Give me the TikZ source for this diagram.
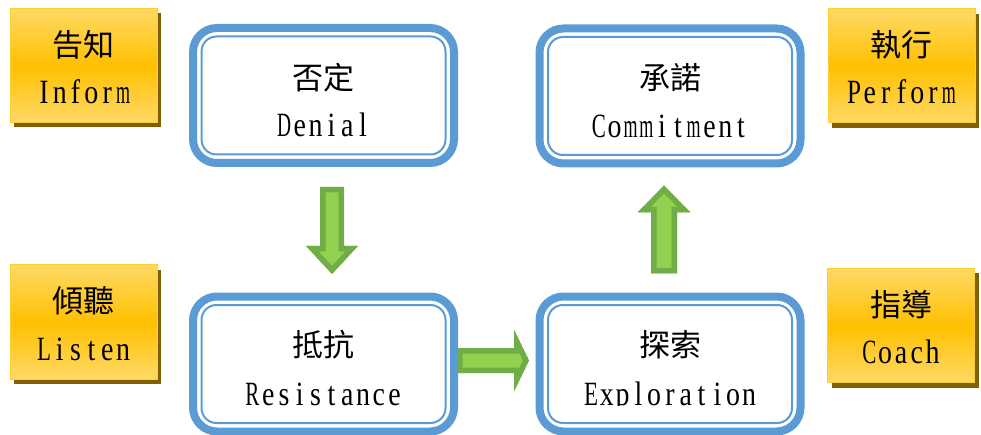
\documentclass[tikz,border=0pt]{standalone}
\usepackage{fontspec}
\usepackage{graphicx}
\newfontfamily\cjk{Noto Sans CJK TC}
\newfontfamily\engfont[FakeStretch=0.82]{Liberation Serif}
\usetikzlibrary{shadows,calc}
\definecolor{boxblue}{HTML}{5B9BD5}
\definecolor{arrowdark}{HTML}{70AD47}
\definecolor{arrowlight}{HTML}{92D050}
\definecolor{tagtop}{HTML}{FFD966}
\definecolor{tagmid}{HTML}{FFC000}
\definecolor{tagborder}{HTML}{FFCC33}
\definecolor{tagshadow}{HTML}{806000}
\newsavebox\glyphbox
\newcommand\fitglyph[1]{\sbox\glyphbox{#1}\ifdim\wd\glyphbox>14pt\resizebox{14pt}{\ht\glyphbox}{#1}\else\usebox\glyphbox\fi}
\newcommand\spacedword[1]{\spacedaux#1\relax}
\def\spacedaux#1{\ifx\relax#1\else\makebox[15.8pt]{\fitglyph{#1}}\expandafter\spacedaux\fi}
\newcommand\blockarrow[6]{%
  \begin{scope}[shift={#1}, rotate=#2]
    \clip (0,#6) -- ({#3-#4},#6) -- ({#3-#4},#5) -- (#3,0) -- ({#3-#4},-#5) -- ({#3-#4},-#6) -- (0,-#6) -- cycle;
    \fill[arrowlight] (0,#6) -- ({#3-#4},#6) -- ({#3-#4},#5) -- (#3,0) -- ({#3-#4},-#5) -- ({#3-#4},-#6) -- (0,-#6) -- cycle;
    \draw[arrowdark, line width=11pt] (0,#6) -- ({#3-#4},#6) -- ({#3-#4},#5) -- (#3,0) -- ({#3-#4},-#5) -- ({#3-#4},-#6) -- (0,-#6) -- cycle;
  \end{scope}}
\begin{document}
\begin{tikzpicture}[x=1pt, y=-1pt,
  flowbox/.style={draw=boxblue, line width=8pt, rounded corners=24pt, minimum width=261pt, minimum height=135pt, outer sep=0pt, inner sep=0pt, fill=white},
  innerline/.style={draw=boxblue, line width=2pt, rounded corners=15pt},
  tagbox/.style={draw=tagborder, line width=1pt, top color=tagtop, bottom color=tagtop, middle color=tagmid, minimum width=147pt, minimum height=114pt, outer sep=0pt, inner sep=0pt, drop shadow={shadow xshift=4pt, shadow yshift=-5pt, fill=tagshadow, opacity=1}},
  cjktext/.style={font=\cjk\fontsize{31}{31}\selectfont, inner sep=0pt},
  engtext/.style={font=\engfont\fontsize{34}{34}\selectfont, inner sep=0pt, anchor=base}]
\useasboundingbox (0,0) rectangle (981,435);

% side tags
\node[tagbox] (inform) at (83.5,65.5) {};
\node[tagbox] (perform) at (901.5,66) {};
\node[tagbox] (listen) at (83.5,322) {};
\node[tagbox] (coach) at (901,325.5) {};
\foreach \n/\c/\e in {inform/告知/Inform, perform/執行/Perform, listen/傾聽/Listen, coach/指導/Coach}{
  \node[cjktext] (\n-c) at ($(\n.center)+(0,-21)$) {\c};
  \node[engtext] (\n-e) at ($(\n.center)+(0,38)$) {\expandafter\spacedword\expandafter{\e}};
}

% main boxes
\node[flowbox] (denial) at (323.5,95.5) {};
\node[flowbox] (commit) at (670,96) {};
\node[flowbox] (resist) at (323.5,364) {};
\node[flowbox] (explore) at (670,364) {};
\foreach \n in {denial, commit, resist, explore}{
  \draw[innerline] ($(\n.north west)+(8.5,8.5)$) rectangle ($(\n.south east)+(-8.5,-8.5)$);
}
\node[cjktext] (denial-c) at ($(denial.center)+(0,-18)$) {否定};
\node[engtext] (denial-e) at ($(denial.center)+(0,41.5)$) {\spacedword{Denial}};
\node[cjktext] (commit-c) at ($(commit.center)+(0,-18)$) {承諾};
\node[engtext] (commit-e) at ($(commit.center)+(0,41.5)$) {\spacedword{Commitment}};
\node[cjktext] (resist-c) at ($(resist.center)+(0,-19)$) {抵抗};
\node[cjktext] (explore-c) at ($(explore.center)+(0,-19)$) {探索};
\begin{scope}
  \clip (0,0) rectangle (981,405);
  \node[engtext] (resist-e) at ($(resist.center)+(0,41)$) {\spacedword{Resistance}};
  \node[engtext] (explore-e) at ($(explore.center)+(0,41)$) {\spacedword{Exploration}};
\end{scope}

% block arrows
\coordinate (a1) at ($(denial.south)+(8.5,24)$);
\coordinate (a2) at ($(resist.east)+(3,-3.5)$);
\coordinate (a3) at ($(commit.south)+(-6,110)$);
\blockarrow{(a1)}{-90}{87}{28}{26}{12}
\blockarrow{(a2)}{0}{72}{15}{31}{12.5}
\blockarrow{(a3)}{90}{88}{27}{26.5}{13}
\end{tikzpicture}
\end{document}
